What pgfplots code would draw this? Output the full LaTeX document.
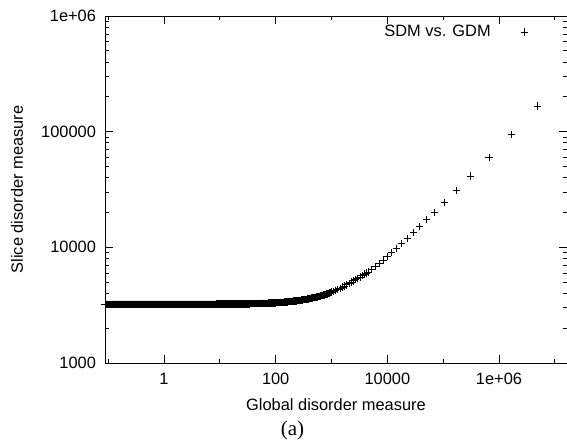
\documentclass[border=0pt]{standalone}
\usepackage{fontspec}
\setmainfont{Liberation Sans}
\newfontfamily\capfont{Liberation Serif}
\usepackage{pgfplots}
\pgfplotsset{compat=1.18}
\newcommand{\fs}{\fontsize{16.4}{19.7}\selectfont}
\begin{document}
\begin{tikzpicture}
\begin{axis}[
  at={(0,0)}, anchor=south west,
  scale only axis, width=462pt, height=347pt,
  xmode=log, ymode=log,
  xmin=0.0877, xmax=1.65e7, ymin=1000, ymax=1e6,
  axis line style={line width=0.9pt, black},
  xtick={1,100,10000,1000000}, xticklabels={1,100,10000,1e+06},
  minor xtick={0.1,10,1000,100000,10000000},
  ytick={1000,10000,100000,1000000}, yticklabels={1000,10000,100000,1e+06},
  minor ytick={2000,3000,4000,5000,6000,7000,8000,9000,20000,30000,40000,50000,60000,70000,80000,90000,200000,300000,400000,500000,600000,700000,800000,900000},
  tick align=inside, major tick length=8pt, minor tick length=4pt,
  tick style={line width=0.8pt, black},
  tick label style={font=\fs},
  yticklabel style={xshift=-5.5pt},
  xticklabel style={yshift=-6.5pt},
  xlabel={Global disorder measure}, ylabel={Slice disorder measure},
  label style={font=\fs},
  xlabel style={at={(axis description cs:0.5,-0.121)}, anchor=center},
  ylabel style={at={(axis description cs:-0.1905,0.5)}, anchor=center},
  legend plot pos=right,
  legend image code/.code={\path[draw=none] (0pt,0pt) (76.3pt,0pt); \draw[#1] plot coordinates {(33.6pt,0pt)};},
  legend style={draw=none, fill=none, at={(1,0.9539)}, anchor=east, inner sep=0pt, outer sep=0pt, column sep=0pt, nodes={inner sep=0pt, font=\fs}},
]
\addplot[only marks, mark=+, mark size=3.7pt, line width=0.8pt, black] coordinates {
(0.0883,3215) (0.092,3215) (0.0959,3215)
(0.1,3215) (0.104,3215) (0.109,3215) (0.113,3215) (0.118,3215) (0.123,3215) (0.128,3215) (0.133,3215)
(0.139,3215) (0.145,3215) (0.151,3215) (0.157,3215) (0.164,3215) (0.171,3215) (0.178,3215) (0.185,3215)
(0.193,3215) (0.201,3215) (0.21,3215) (0.218,3215) (0.228,3215) (0.237,3215) (0.247,3215) (0.258,3215)
(0.268,3215) (0.28,3215) (0.291,3215) (0.304,3215) (0.316,3215) (0.33,3215) (0.343,3215) (0.358,3215)
(0.373,3215) (0.388,3215) (0.405,3215) (0.422,3215) (0.439,3215) (0.458,3215) (0.477,3215) (0.497,3215)
(0.518,3215) (0.54,3215) (0.562,3215) (0.586,3215) (0.61,3215) (0.636,3215) (0.663,3215) (0.69,3215)
(0.719,3215) (0.75,3215) (0.781,3215) (0.814,3215) (0.848,3215) (0.883,3215) (0.92,3215) (0.959,3215)
(1,3216) (1.04,3216) (1.09,3216) (1.13,3216) (1.18,3216) (1.23,3216) (1.28,3216) (1.33,3216)
(1.39,3216) (1.45,3216) (1.51,3217) (1.57,3217) (1.64,3217) (1.71,3217) (1.78,3217) (1.85,3217)
(1.93,3217) (2.01,3217) (2.1,3217) (2.18,3217) (2.28,3217) (2.37,3217) (2.47,3217) (2.58,3218)
(2.68,3218) (2.8,3218) (2.91,3218) (3.04,3218) (3.16,3218) (3.3,3218) (3.43,3218) (3.58,3219)
(3.73,3219) (3.88,3219) (4.05,3219) (4.22,3219) (4.39,3219) (4.58,3220) (4.77,3220) (4.97,3220)
(5.18,3220) (5.4,3220) (5.62,3221) (5.86,3221) (6.1,3221) (6.36,3221) (6.63,3222) (6.9,3222)
(7.19,3222) (7.5,3222) (7.81,3223) (8.14,3223) (8.48,3223) (8.83,3224) (9.2,3224) (9.59,3224)
(10,3225) (10.4,3225) (10.9,3226) (11.3,3226) (11.8,3227) (12.3,3227) (12.8,3228) (13.3,3228)
(13.9,3229) (14.5,3230) (15.1,3230) (15.7,3231) (16.4,3231) (17.1,3232) (17.8,3233) (18.5,3234)
(19.3,3234) (20.1,3235) (21,3236) (21.8,3237) (22.8,3238) (23.7,3239) (24.7,3240) (25.8,3241)
(26.8,3242) (28,3243) (29.1,3244) (30.4,3245) (31.6,3247) (33,3248) (34.3,3249) (35.8,3251)
(37.3,3252) (38.8,3254) (40.5,3255) (42.2,3257) (43.9,3259) (45.8,3261) (47.7,3263) (49.7,3265)
(51.8,3267) (54,3269) (56.2,3271) (58.6,3274) (61,3276) (63.6,3279) (66.3,3281) (69,3284)
(71.9,3287) (75,3290) (78.1,3293) (81.4,3296) (84.8,3300) (88.3,3303) (92,3307) (95.9,3311)
(100,3315) (106,3320) (113,3327) (120,3334) (128,3342) (136,3350) (145,3358) (154,3367)
(164,3377) (175,3387) (186,3398) (198,3409) (211,3422) (224,3434) (239,3448) (254,3462)
(270,3477) (288,3494) (306,3511) (326,3529) (347,3548) (369,3569) (393,3590) (418,3613)
(445,3637) (473,3662) (504,3689) (536,3718) (570,3747) (607,3779) (646,3812) (687,3847)
(731,3884) (778,3923) (828,3965) (881,4008) (938,4054) (998,4102)
(1090,4174) (1190,4251) (1300,4334) (1430,4431) (1560,4525) (1710,4632) (1870,4742) (2050,4864)
(2250,4996) (2460,5131) (2690,5275) (2950,5390) (3230,5540) (3540,5700) (3870,5860) (4200,5990)
(4560,6120) (5250,6460) (6090,6800) (7180,7270) (8470,7770) (10000,8300) (11980,8995) (14730,9820)
(18100,10840) (22800,11970) (29200,13390) (37400,15070) (49900,17420) (70000,20090) (105000,24430)
(175000,30970) (312000,41400) (662000,60000) (1690000,94900) (4930000,166800)
};
\addlegendentry{SDM vs. GDM}
\addplot[only marks, mark=+, mark size=3.7pt, line width=0.8pt, black, forget plot] coordinates {
(0.0901,3215) (0.094,3215) (0.098,3215)
(0.102,3215) (0.1065,3215) (0.111,3215) (0.1155,3215) (0.1205,3215) (0.1255,3215) (0.1305,3215) (0.136,3215)
(0.142,3215) (0.148,3215) (0.154,3215) (0.1605,3215) (0.1675,3215) (0.1745,3215) (0.1815,3215) (0.189,3215)
(0.197,3215) (0.2055,3215) (0.214,3215) (0.223,3215) (0.2325,3215) (0.242,3215) (0.2525,3215) (0.263,3215)
(0.274,3215) (0.2855,3215) (0.2975,3215) (0.31,3215) (0.323,3215) (0.3365,3215) (0.3505,3215) (0.3655,3215)
(0.3805,3215) (0.3965,3215) (0.4135,3215) (0.4305,3215) (0.4485,3215) (0.4675,3215) (0.487,3215) (0.5075,3215)
(0.529,3215) (0.551,3215) (0.574,3215) (0.598,3215) (0.623,3215) (0.6495,3215) (0.6765,3215) (0.7045,3215)
(0.7345,3215) (0.7655,3215) (0.7975,3215) (0.831,3215) (0.8655,3215) (0.9015,3215) (0.9395,3215) (0.9795,3215)
(1.02,3216) (1.065,3216) (1.11,3216) (1.155,3216) (1.205,3216) (1.255,3216) (1.305,3216) (1.36,3216)
(1.42,3216) (1.48,3216) (1.54,3217) (1.605,3217) (1.675,3217) (1.745,3217) (1.815,3217) (1.89,3217)
(1.97,3217) (2.055,3217) (2.14,3217) (2.23,3217) (2.325,3217) (2.42,3217) (2.525,3217) (2.63,3218)
(2.74,3218) (2.855,3218) (2.975,3218) (3.1,3218) (3.23,3218) (3.365,3218) (3.505,3218) (3.655,3219)
(3.805,3219) (3.965,3219) (4.135,3219) (4.305,3219) (4.485,3219) (4.675,3220) (4.87,3220) (5.075,3220)
(5.29,3220) (5.51,3220) (5.74,3221) (5.98,3221) (6.23,3221) (6.495,3221) (6.765,3222) (7.045,3222)
(7.345,3222) (7.655,3222) (7.975,3223) (8.31,3223) (8.655,3223) (9.015,3224) (9.395,3224) (9.795,3224)
(10.2,3225) (10.65,3226) (11.1,3226) (11.55,3227) (12.05,3227) (12.55,3228) (13.05,3228) (13.6,3229)
(14.2,3229) (14.8,3230) (15.4,3230) (16.05,3231) (16.75,3232) (17.45,3232) (18.15,3233) (18.9,3234)
(19.7,3235) (20.55,3236) (21.4,3236) (22.3,3237) (23.25,3238) (24.2,3239) (25.25,3240) (26.3,3241)
(27.4,3242) (28.55,3244) (29.75,3245) (31,3246) (32.3,3247) (33.65,3249) (35.05,3250) (36.55,3252)
(38.05,3253) (39.65,3255) (41.35,3256) (43.05,3258) (44.85,3260) (46.75,3262) (48.7,3264) (50.75,3266)
(52.9,3268) (55.1,3270) (57.4,3272) (59.8,3275) (62.3,3277) (64.95,3280) (67.65,3283) (70.45,3285)
(73.45,3288) (76.55,3291) (79.75,3295) (83.1,3298) (86.55,3302) (90.15,3305) (93.95,3309) (97.95,3313)
(103,3318) (109.5,3323) (116.5,3330) (124,3338) (132,3346) (140.5,3354) (149.5,3363) (159,3372)
(169.5,3382) (180.5,3393) (192,3404) (204.5,3416) (217.5,3428) (231.5,3441) (246.5,3455) (262,3470)
(279,3486) (297,3502) (316,3520) (336.5,3539) (358,3558) (381,3580) (405.5,3602) (431.5,3625)
(459,3649) (488.5,3676) (520,3704) (553,3733) (588.5,3763) (626.5,3795) (666.5,3830) (709,3866)
(754.5,3904) (803,3944) (854.5,3987) (909.5,4031) (968,4078)
};
\end{axis}
\node[font=\capfont\fontsize{21}{24}\selectfont] at (187.5pt,-67pt) {(a)};
\pgfresetboundingbox
\path[use as bounding box] (-105pt,-80pt) rectangle (462pt,363pt);
\end{tikzpicture}
\end{document}
